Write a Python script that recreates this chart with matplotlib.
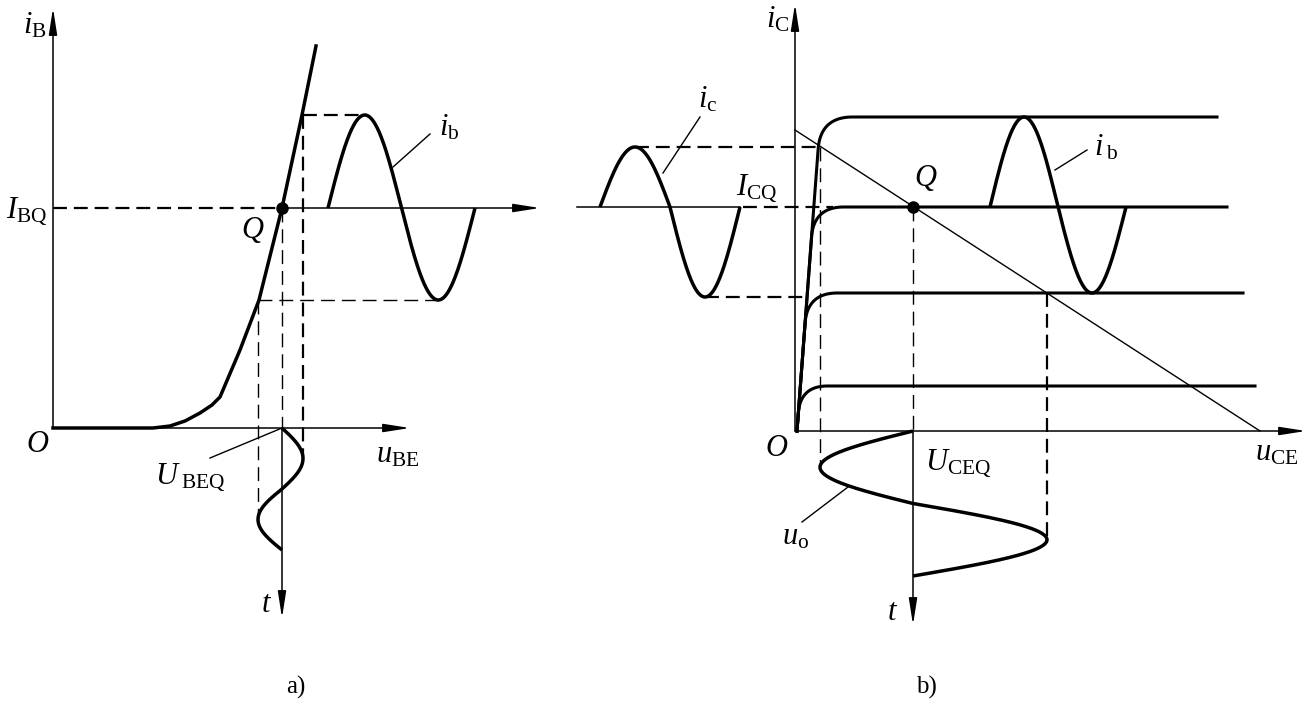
import numpy as np
import matplotlib
matplotlib.use('Agg')
import matplotlib.pyplot as plt

plt.rcParams['mathtext.fontset'] = 'custom'
plt.rcParams['mathtext.rm'] = 'Liberation Serif'
plt.rcParams['mathtext.it'] = 'Liberation Serif:italic'
plt.rcParams['font.family'] = ['Liberation Serif', 'DejaVu Serif']
plt.rcParams['lines.scale_dashes'] = False

#############################################################################
# Diagram values (page coordinates, y grows downward)

# a) input characteristic i_B(u_BE)
in_u = [53, 153, 170, 185, 200, 212, 220, 240, 259, 282, 302, 316]
in_i = [428, 428, 426, 421, 413, 405, 397, 350, 300, 208, 115, 46]
orig_a = [53, 428]
Q_a = [282, 208]
# sines: start, centre, period, amplitude one way, amplitude other way
ib_a = [328, 208, 147, 93, 92]
ube_a = [282, 428, 122, 21, 24]

# b) output characteristics i_C(u_CE)
orig_b = [795, 431]
out_levels = [117, 207, 293, 386]
out_end = [1217, 1227, 1243, 1255]
out_knee = [32, 30, 30, 27]
steep_x0 = 797
steep_k = 0.075
load_line_x = [795, 1260]
load_line_y = [130, 431]
Q_b = [913, 207]
ib_b = [990, 207, 136, 90, 86]
ic_b = [600, 207, 140, 60, 90]
uo_b = [913, 431, 145, 93, 134]

#############################################################################

DashThick = 1.6
DashThin = 1.0
Dash = (10, 5)
Thick = 2.5
Axis = 1.1
FontMain = 22

fig = plt.figure(figsize=(13.08, 7.04), dpi=100)
ax = fig.add_axes([0, 0, 1, 1])
ax.set_xlim(0, 1308)
ax.set_ylim(704, 0)
ax.axis('off')


def arrow(x0, y0, x1, y1):
    ax.annotate('', xy=(x1, y1), xytext=(x0, y0),
                arrowprops=dict(arrowstyle='-|>,head_length=1.6,head_width=0.25',
                                lw=Axis, color='k', shrinkA=0, shrinkB=0))


def dashed(xs, ys, lw):
    ax.plot(xs, ys, color='k', lw=lw, dashes=Dash)


def sine_h(p):
    # horizontal sine: time runs along x, up first
    t = np.linspace(0, 1, 300)
    s = np.sin(2*np.pi*t)
    y = p[1] - np.where(s > 0, s*p[3], s*p[4])
    ax.plot(p[0] + t*p[2], y, color='k', lw=Thick, solid_capstyle='butt')


def sine_v(p, first_right=True):
    # vertical sine: time runs down along y
    t = np.linspace(0, 1, 300)
    s = np.sin(2*np.pi*t)
    sign = 1 if first_right else -1
    x = p[0] + sign*np.where(s > 0, s*p[3], s*p[4])
    ax.plot(x, p[1] + t*p[2], color='k', lw=Thick, solid_capstyle='butt')


def txt(x, y, s, size=FontMain, **kw):
    ax.text(x, y, s, fontsize=size, ha=kw.pop('ha', 'center'), va=kw.pop('va', 'center'), **kw)


# ---------------- a) ----------------
arrow(orig_a[0], orig_a[1], orig_a[0], 8)
arrow(orig_a[0], orig_a[1], 410, orig_a[1])
ax.plot(in_u, in_i, color='k', lw=Thick, solid_joinstyle='round')

dashed([orig_a[0], Q_a[0]], [Q_a[1], Q_a[1]], DashThick)
arrow(Q_a[0], Q_a[1], 540, Q_a[1])
ax.plot(Q_a[0], Q_a[1], 'o', color='k', markersize=8)

peak_a = ib_a[1] - ib_a[3]
trough_a = ib_a[1] + ib_a[4]
ube_right = ube_a[0] + ube_a[3]
ube_left = ube_a[0] - ube_a[4]
dashed([ube_right, ib_a[0] + ib_a[2]/4], [peak_a, peak_a], DashThick)
dashed([ube_left, ib_a[0] + 3*ib_a[2]/4], [trough_a, trough_a], DashThin)
dashed([ube_right, ube_right], [peak_a, ube_a[1] + ube_a[2]/4], DashThick)
dashed([ube_left, ube_left], [trough_a, ube_a[1] + 3*ube_a[2]/4], DashThin)
dashed([Q_a[0], Q_a[0]], [Q_a[1], orig_a[1]], DashThin)
arrow(Q_a[0], orig_a[1], Q_a[0], 618)

sine_h(ib_a)
sine_v(ube_a, first_right=True)

ax.plot([393, 430], [167, 134], color='k', lw=1.0)
ax.plot([210, Q_a[0]], [458, orig_a[1]], color='k', lw=1.0)

txt(47, 26, r'$i_{\mathrm{B}}$', ha='right')
txt(48, 211, r'$I_{\mathrm{BQ}}$', ha='right')
txt(253, 230, r'$Q$')
txt(449, 128, r'$i_{\mathrm{b}}$')
txt(38, 444, r'$O$')
txt(190, 477, r'$U_{\;\mathrm{BEQ}}$')
txt(398, 455, r'$u_{\mathrm{BE}}$')
txt(267, 604, r'$t$')
txt(296, 687, 'a)', size=18)

# ---------------- b) ----------------
arrow(orig_b[0], orig_b[1], orig_b[0], 4)
arrow(orig_b[0], orig_b[1], 1306, orig_b[1])


def steep(y):
    return steep_x0 + steep_k*(orig_b[1] - y)


for lvl, xe, r in zip(out_levels, out_end, out_knee):
    t = np.linspace(0, 1, 60)
    p0 = np.array([steep(lvl + r), lvl + r])
    p1 = np.array([steep(lvl), lvl])
    p2 = np.array([steep(lvl) + r, lvl])
    bx = (1-t)**2*p0[0] + 2*(1-t)*t*p1[0] + t**2*p2[0]
    by = (1-t)**2*p0[1] + 2*(1-t)*t*p1[1] + t**2*p2[1]
    xs = np.concatenate([[steep(orig_b[1])], bx, [xe]])
    ys = np.concatenate([[orig_b[1]], by, [lvl]])
    ax.plot(xs, ys, color='k', lw=Thick - 0.3, solid_joinstyle='round')

ax.plot(load_line_x, load_line_y, color='k', lw=1.0)
ax.plot(Q_b[0], Q_b[1], 'o', color='k', markersize=8)

# ic sine with its base line
ax.plot([577, ic_b[0] + ic_b[2]], [ic_b[1], ic_b[1]], color='k', lw=Axis)
sine_h(ic_b)
sine_h(ib_b)

uo_left = uo_b[0] - uo_b[3]
uo_right = uo_b[0] + uo_b[4]
ic_peak = ic_b[1] - ic_b[3]
ic_trough = ic_b[1] + ic_b[4]
dashed([ic_b[0] + ic_b[2]/4, uo_left], [ic_peak, ic_peak], DashThick)
dashed([ic_b[0] + 3*ic_b[2]/4, steep(ic_trough)], [ic_trough, ic_trough], DashThick)
dashed([ic_b[0] + ic_b[2] + 3, 833], [Q_b[1], Q_b[1]], DashThick)
dashed([uo_left, uo_left], [ic_peak, uo_b[1] + uo_b[2]/4], DashThin)
dashed([Q_b[0], Q_b[0]], [Q_b[1], orig_b[1]], DashThin)
dashed([uo_right, uo_right], [out_levels[2], uo_b[1] + 3*uo_b[2]/4], DashThick)
arrow(Q_b[0], orig_b[1], Q_b[0], 625)
sine_v(uo_b, first_right=False)

ax.plot([663, 700], [173, 117], color='k', lw=1.0)
ax.plot([1055, 1087], [170, 150], color='k', lw=1.0)
ax.plot([802, 848], [522, 487], color='k', lw=1.0)

txt(790, 20, r'$i_{\mathrm{C}}$', ha='right')
txt(708, 100, r'$i_{\mathrm{c}}$')
txt(757, 188, r'$I_{\mathrm{CQ}}$')
txt(926, 178, r'$Q$')
txt(1106, 148, r'$i_{\;\mathrm{b}}$')
txt(777, 448, r'$O$')
txt(958, 463, r'$U_{\mathrm{CEQ}}$')
txt(1277, 453, r'$u_{\mathrm{CE}}$')
txt(796, 537, r'$u_{\mathrm{o}}$')
txt(893, 612, r'$t$')
txt(926, 687, 'b)', size=18)

plt.savefig('out.png', dpi=100)
plt.close()
